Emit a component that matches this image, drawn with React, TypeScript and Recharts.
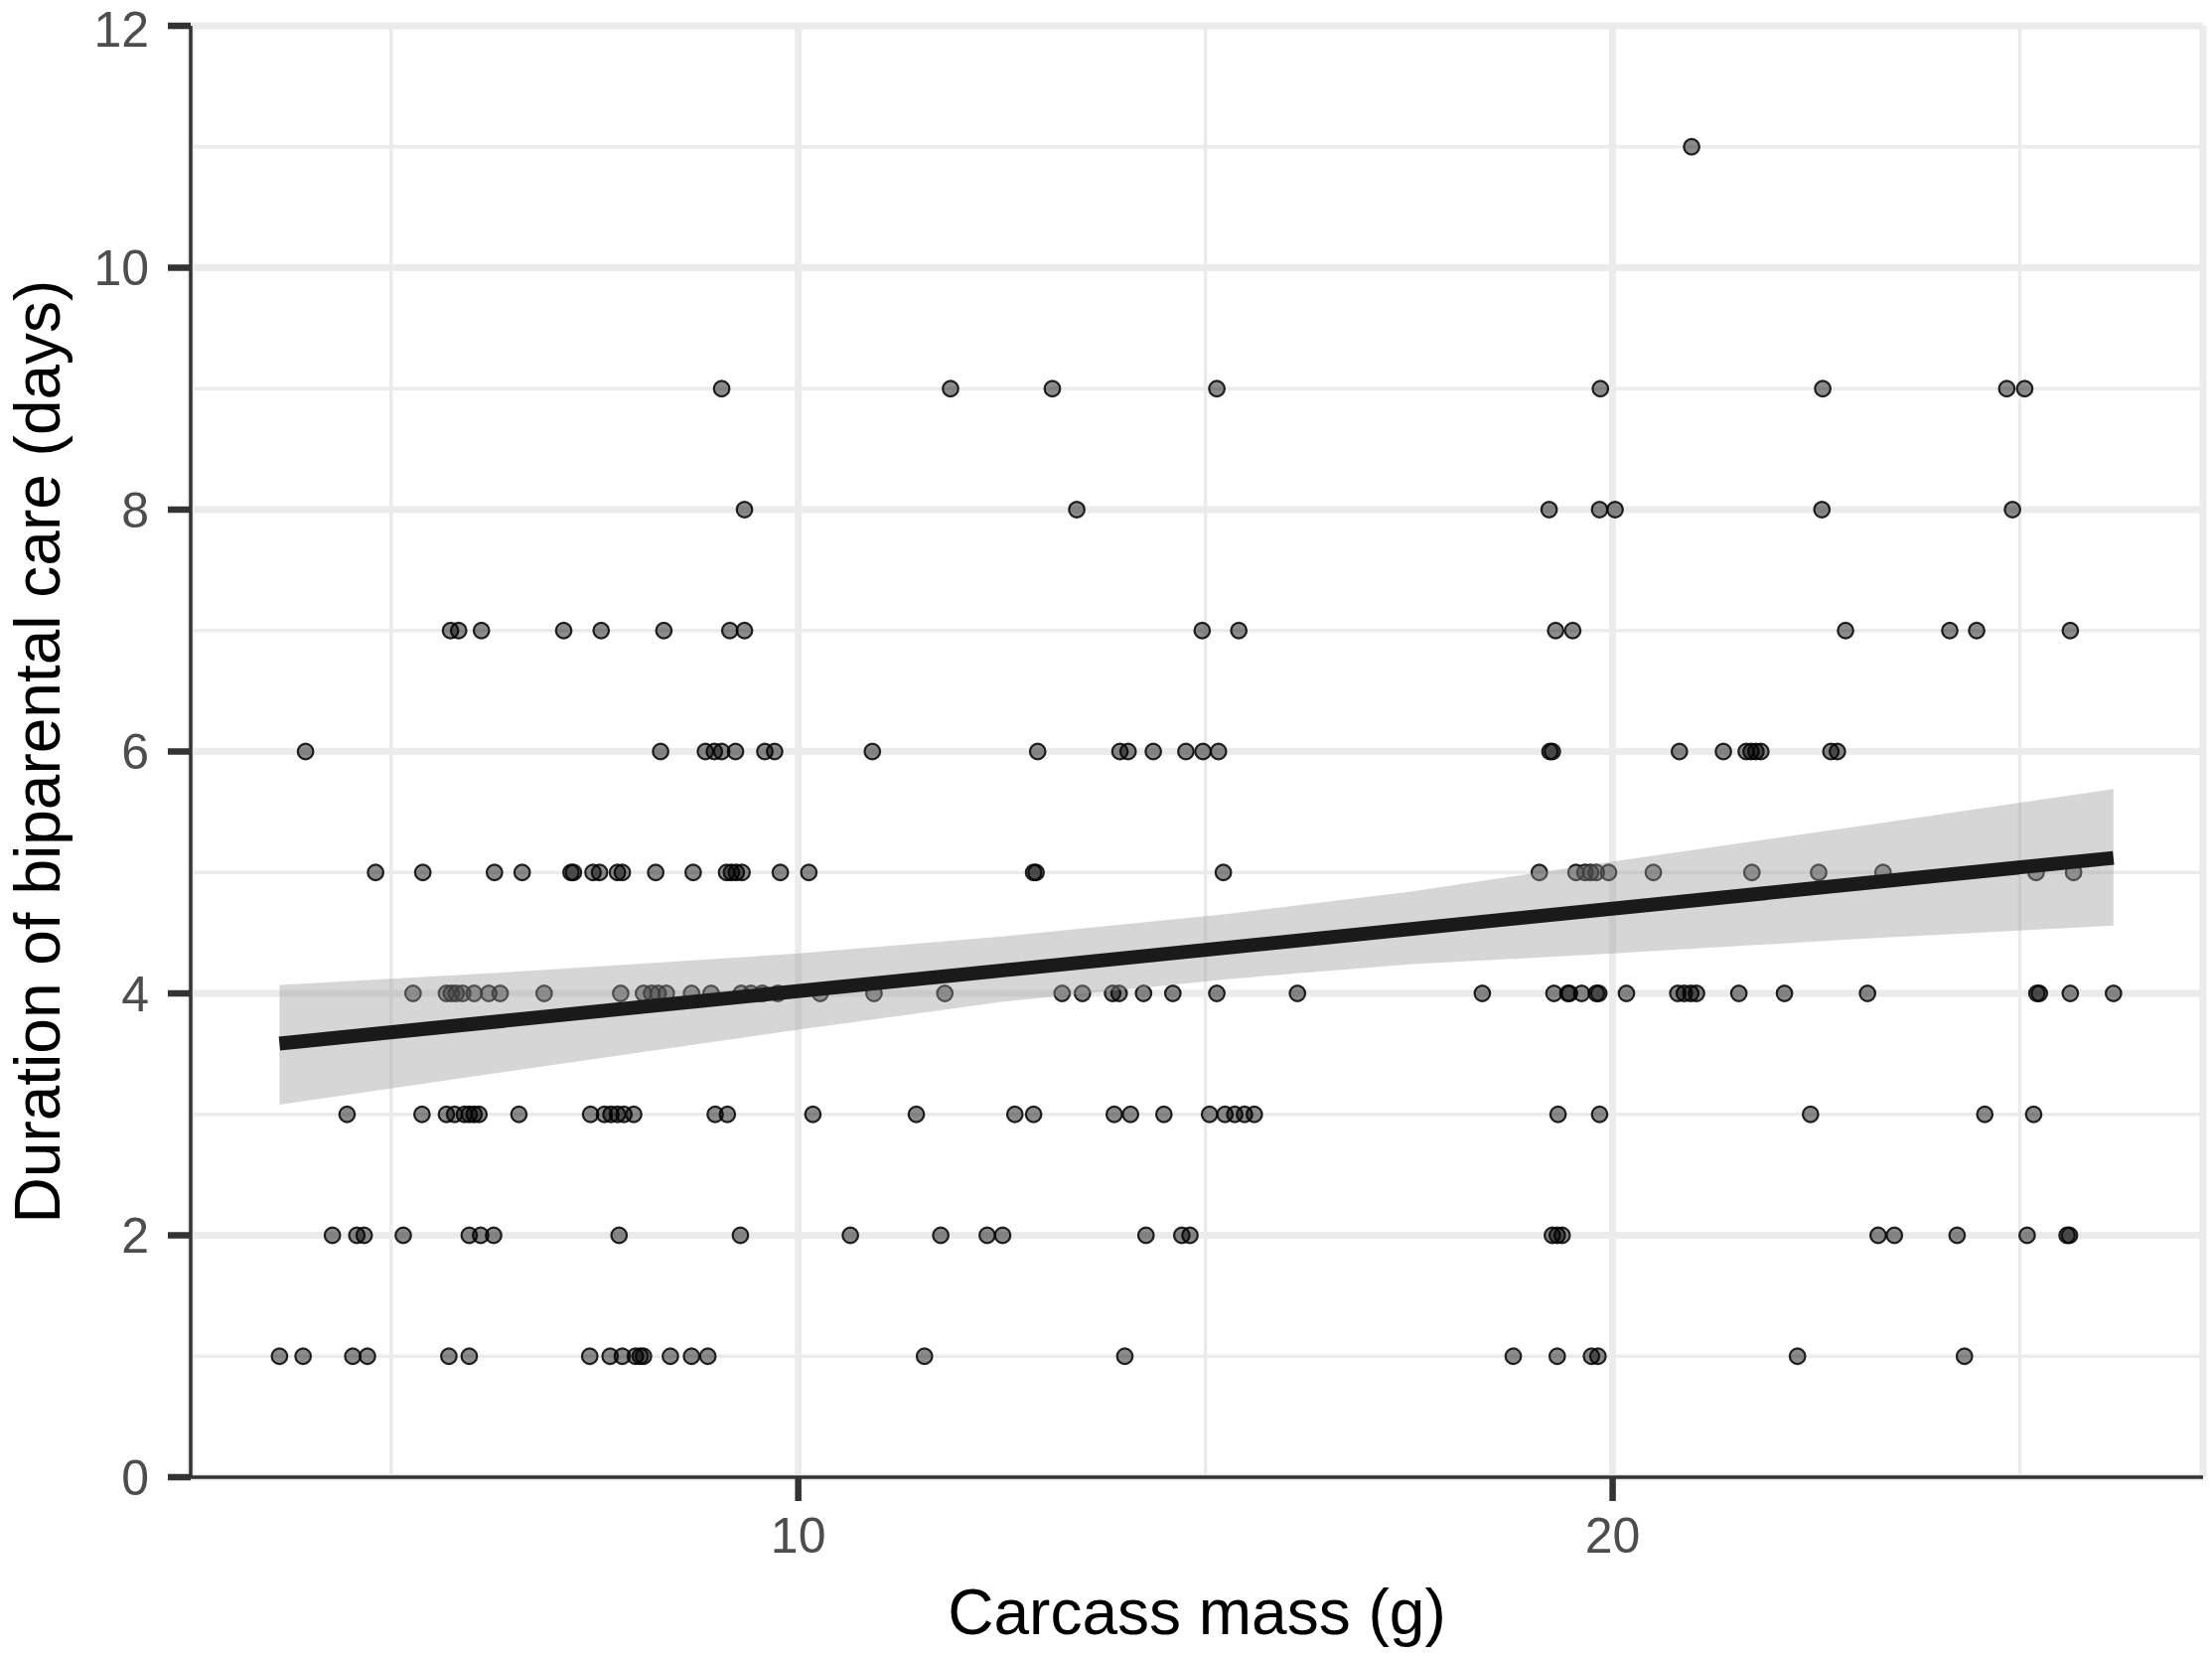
import { ComposedChart, Scatter, Area, Line, XAxis, YAxis, CartesianGrid, Label } from "recharts"

const FONT = '"Liberation Sans", Arial, Helvetica, sans-serif'

// carcass mass (g) of each pair, grouped by duration of biparental care (days)
const mass1 = [3.63, 3.92, 4.53, 4.71, 5.71, 5.96, 7.44, 7.69, 7.84, 8.0, 8.06, 8.1, 8.43, 8.69, 8.89, 11.55, 14.01, 18.78, 19.32, 19.74, 19.82, 22.27, 24.32]
const mass2 = [4.28, 4.58, 4.67, 5.15, 5.96, 6.1, 6.26, 7.8, 9.29, 10.64, 11.75, 12.32, 12.51, 14.27, 14.71, 14.81, 19.26, 19.32, 19.38, 23.26, 23.46, 24.23, 25.09, 25.58, 25.61]
const mass3 = [4.46, 5.38, 5.68, 5.78, 5.9, 5.96, 6.02, 6.08, 6.57, 7.45, 7.62, 7.7, 7.78, 7.86, 7.98, 8.98, 9.13, 10.18, 11.45, 12.66, 12.89, 13.88, 14.08, 14.49, 15.05, 15.24, 15.36, 15.48, 15.6, 19.33, 19.84, 22.43, 24.57, 25.17]
const mass4 = [5.27, 5.68, 5.74, 5.8, 5.88, 6.02, 6.2, 6.34, 6.88, 7.82, 8.1, 8.2, 8.28, 8.38, 8.69, 8.93, 9.3, 9.42, 9.56, 9.75, 10.27, 10.93, 11.8, 13.24, 13.49, 13.86, 13.94, 14.24, 14.6, 15.14, 16.13, 18.4, 19.28, 19.45, 19.47, 19.62, 19.8, 19.83, 20.17, 20.8, 20.88, 20.96, 21.03, 21.55, 22.11, 23.13, 25.21, 25.24, 25.62, 26.15]
const mass5 = [4.81, 5.39, 6.27, 6.61, 7.21, 7.24, 7.48, 7.56, 7.78, 7.84, 8.25, 8.71, 9.12, 9.18, 9.24, 9.31, 9.78, 10.13, 12.89, 12.92, 15.22, 19.1, 19.55, 19.66, 19.73, 19.8, 19.95, 20.5, 21.71, 22.53, 23.32, 25.2, 25.66]
const mass6 = [3.95, 8.31, 8.86, 8.97, 9.06, 9.23, 9.59, 9.71, 10.91, 12.94, 13.95, 14.05, 14.36, 14.76, 14.97, 15.16, 19.23, 19.26, 20.82, 21.36, 21.64, 21.7, 21.76, 21.82, 22.68, 22.76]
const mass7 = [5.73, 5.83, 6.11, 7.12, 7.58, 8.35, 9.16, 9.34, 14.96, 15.41, 19.3, 19.51, 22.86, 24.14, 24.47, 25.62]
const mass8 = [9.34, 13.42, 19.22, 19.84, 20.03, 22.57, 24.91]
const mass9 = [9.06, 11.87, 13.12, 15.14, 19.85, 22.58, 24.84, 25.06]
const mass11 = [20.97]

const days = [1, 2, 3, 4, 5, 6, 7, 8, 9, 11]
const massByDay = [mass1, mass2, mass3, mass4, mass5, mass6, mass7, mass8, mass9, mass11]

// linear fit and its confidence band
const fitX = [3.63, 26.15]
const fitY = [3.585, 5.12]
const bandX = [3.63, 6.8, 10, 12.5, 15.3, 17.5, 20, 23, 26.15]
const bandLow = [3.08, 3.39, 3.7, 3.93, 4.12, 4.24, 4.33, 4.45, 4.56]
const bandHigh = [4.07, 4.19, 4.33, 4.47, 4.66, 4.84, 5.09, 5.38, 5.69]

const xTicks = [10, 20]
const xMinor = [5, 15, 25]
const yTicks = [0, 2, 4, 6, 8, 10, 12]
const yMinor = [1, 3, 5, 7, 9, 11]
const xDomain = [2.54, 27.25]
const yDomain = [0, 12]

const points = days.flatMap((d, i) => massByDay[i].map((m) => ({ x: m, y: d })))
const band = bandX.map((x, i) => ({ x, range: [bandLow[i], bandHigh[i]] }))
const fit = fitX.map((x, i) => ({ x, fit: fitY[i] }))

const axisLine = { stroke: "#333333", strokeWidth: 3.5 }
const tickLine = { stroke: "#333333", strokeWidth: 6.5 }
const tickText = { fill: "#4d4d4d", fontSize: 50, fontFamily: FONT }

function Dot(props: any) {
  return (
    <circle
      cx={props.cx}
      cy={props.cy}
      r={7.8}
      fill="#000"
      fillOpacity={0.45}
      stroke="#000"
      strokeOpacity={0.85}
      strokeWidth={2.2}
    />
  )
}

function XTitle(props: any) {
  const vb = props.viewBox
  return (
    <text x={vb.x + vb.width / 2} y={vb.y + 158} textAnchor="middle" fontSize={64} fontFamily={FONT} fill="#000">
      Carcass mass (g)
    </text>
  )
}

function YTitle(props: any) {
  const vb = props.viewBox
  const cx = 38
  const cy = vb.y + vb.height / 2
  return (
    <text
      x={cx}
      y={cy}
      transform={`rotate(-90, ${cx}, ${cy})`}
      textAnchor="middle"
      dominantBaseline="central"
      fontSize={64}
      fontFamily={FONT}
      fill="#000"
    >
      Duration of biparental care (days)
    </text>
  )
}

export default function App() {
  return (
    <div style={{ position: "absolute", left: 0, top: 0, width: 2227, height: 1667, background: "#fff" }}>
      <ComposedChart width={2227} height={1667} data={band} margin={{ top: 26, right: 9, bottom: 0, left: 0 }}>
        <CartesianGrid horizontalValues={yMinor} verticalValues={xMinor} stroke="#ebebeb" strokeWidth={3.5} />
        <CartesianGrid stroke="#ebebeb" strokeWidth={7} />
        <XAxis
          dataKey="x"
          type="number"
          domain={xDomain}
          ticks={xTicks}
          allowDataOverflow
          height={180}
          tickSize={24}
          tickMargin={16}
          tick={tickText}
          tickLine={tickLine}
          axisLine={axisLine}
        >
          <Label content={XTitle} />
        </XAxis>
        <XAxis
          xAxisId="border"
          orientation="top"
          dataKey="x"
          type="number"
          domain={xDomain}
          allowDataOverflow
          height={0}
          tick={false}
          tickLine={false}
          axisLine={axisLine}
        />
        <YAxis
          type="number"
          domain={yDomain}
          ticks={yTicks}
          allowDataOverflow
          width={192}
          tickSize={23}
          tickMargin={19}
          tick={tickText}
          tickLine={tickLine}
          axisLine={axisLine}
        >
          <Label content={YTitle} />
        </YAxis>
        <YAxis
          yAxisId="border"
          orientation="right"
          type="number"
          domain={yDomain}
          allowDataOverflow
          width={0}
          tick={false}
          tickLine={false}
          axisLine={axisLine}
        />
        <Scatter data={points} dataKey="y" shape={Dot} isAnimationActive={false} zIndex={90} />
        <Area
          dataKey="range"
          type="linear"
          fill="#999999"
          fillOpacity={0.4}
          stroke="none"
          activeDot={false}
          isAnimationActive={false}
        />
        <Line
          data={fit}
          dataKey="fit"
          type="linear"
          stroke="#1a1a1a"
          strokeWidth={14}
          dot={false}
          activeDot={false}
          isAnimationActive={false}
        />
      </ComposedChart>
    </div>
  )
}
